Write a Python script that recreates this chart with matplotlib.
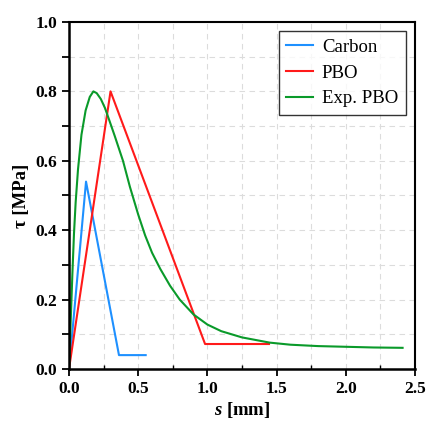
import numpy as np
import matplotlib
matplotlib.use("Agg")
import matplotlib.pyplot as plt
from matplotlib.ticker import MultipleLocator

# bond-slip laws
carbon_s = [0.0, 0.123, 0.361, 0.554]
carbon_tau = [0.0, 0.54, 0.04, 0.04]

pbo_s = [0.0, 0.30, 0.983, 1.445]
pbo_tau = [0.0, 0.80, 0.072, 0.072]

exp_s = [0.0, 0.012, 0.024, 0.036, 0.048, 0.065, 0.09, 0.12, 0.15, 0.176,
         0.20, 0.23, 0.26, 0.29, 0.33, 0.39, 0.44, 0.50, 0.55, 0.60, 0.66,
         0.73, 0.80, 0.90, 1.00, 1.10, 1.25, 1.45, 1.60, 1.80, 2.00, 2.20, 2.41]
exp_tau = [0.0, 0.135, 0.27, 0.39, 0.48, 0.575, 0.675, 0.745, 0.784, 0.800,
           0.795, 0.778, 0.752, 0.718, 0.672, 0.600, 0.525, 0.445, 0.385, 0.335, 0.288,
           0.240, 0.200, 0.157, 0.128, 0.109, 0.091, 0.076, 0.070, 0.066, 0.064, 0.062, 0.061]

plt.rcParams['font.family'] = ['Liberation Serif', 'DejaVu Serif']
plt.rcParams['mathtext.fontset'] = 'custom'
plt.rcParams['mathtext.it'] = 'Liberation Serif:italic:bold'
plt.rcParams['mathtext.rm'] = 'Liberation Serif:bold'

fig = plt.figure(figsize=(4.27, 4.22), dpi=100)
ax = fig.add_axes([0.1616, 0.1256, 0.8104, 0.8223])

ax.plot(carbon_s, carbon_tau, color='#1E90FF', lw=1.5, label='Carbon')
ax.plot(pbo_s, pbo_tau, color='#FF1A1A', lw=1.5, label='PBO')
ax.plot(exp_s, exp_tau, color='#0A9A2A', lw=1.5, label='Exp. PBO')

ax.set_xlim(0, 2.5)
ax.set_ylim(0, 1.0)
ax.xaxis.set_major_locator(MultipleLocator(0.5))
ax.xaxis.set_minor_locator(MultipleLocator(0.25))
ax.yaxis.set_major_locator(MultipleLocator(0.2))
ax.yaxis.set_minor_locator(MultipleLocator(0.1))
ax.set_xticklabels([f"{v:.1f}" for v in ax.get_xticks()])
ax.set_yticklabels([f"{v:.1f}" for v in ax.get_yticks()])

ax.grid(which='both', color='#dcdcdc', ls=(0, (5, 4)), lw=0.8)
ax.set_axisbelow(True)

ax.tick_params(axis='x', which='major', direction='out', length=5, width=1.3, labelsize=12.5)
ax.tick_params(axis='x', which='minor', direction='in', length=3, width=1.0)
ax.tick_params(axis='y', which='both', direction='out', length=5, width=1.3, labelsize=12.5)
for lab in ax.get_xticklabels() + ax.get_yticklabels():
    lab.set_fontweight('bold')

for side in ['left', 'bottom']:
    ax.spines[side].set_linewidth(1.8)
for side in ['top', 'right']:
    ax.spines[side].set_linewidth(1.5)

ax.set_xlabel(r'$s$ [mm]', fontsize=13.5, fontweight='bold', labelpad=2)
ax.set_ylabel('τ [MPa]', fontsize=13.5, fontweight='bold', labelpad=4)

leg = ax.legend(loc='upper right', fontsize=13.5, frameon=True, fancybox=False,
                edgecolor='black', handlelength=1.4, handletextpad=0.5,
                borderpad=0.4, labelspacing=0.45, borderaxespad=0.5)
leg.get_frame().set_linewidth(1.0)

fig.savefig('out.png', dpi=100)
